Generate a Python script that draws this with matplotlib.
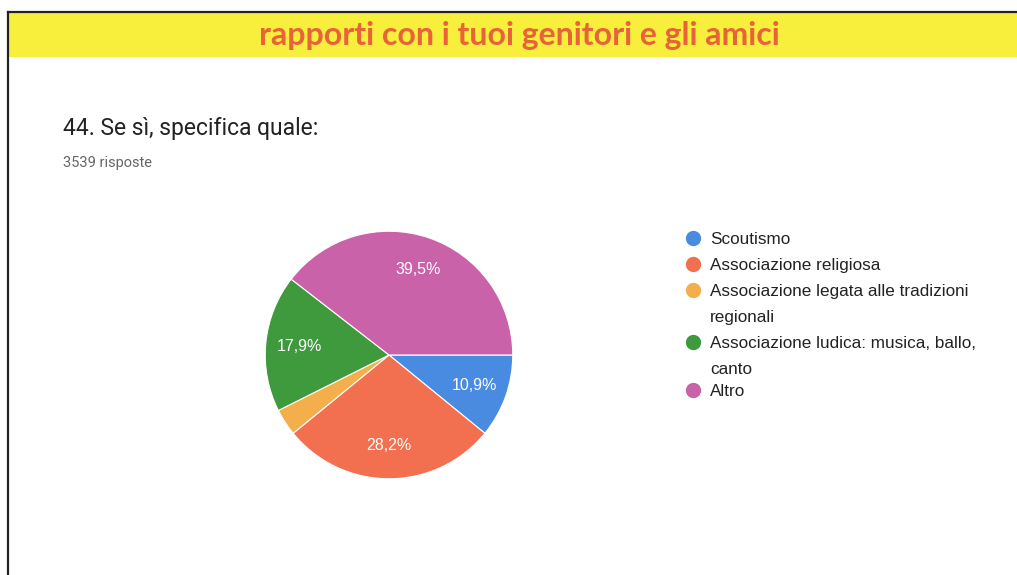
import matplotlib
matplotlib.use("Agg")
import matplotlib.pyplot as plt
from matplotlib.lines import Line2D
from matplotlib.patches import Rectangle

# data
categories = ["Scoutismo", "Associazione religiosa",
              "Associazione legata alle tradizioni\nregionali",
              "Associazione ludica: musica, ballo,\ncanto", "Altro"]
percent = [10.9, 28.2, 3.5, 17.9, 39.5]
pct_labels = ["10,9%", "28,2%", "", "17,9%", "39,5%"]
colors = ["#4a8be2", "#f2704f", "#f5ae4c", "#3e9a3c", "#c962a8"]

W, H = 1017, 575
fig = plt.figure(figsize=(W / 100, H / 100), dpi=100)
fig.patch.set_facecolor("white")

def fx(x):
    return x / W

def fy(y):
    return 1 - y / H

# yellow header band with frame
fig.patches.append(Rectangle((fx(9), fy(57)), fx(1008), 44 / H, transform=fig.transFigure,
                             facecolor="#f8ee3c", edgecolor="none", zorder=0))
fig.add_artist(Line2D([fx(8), fx(1017)], [fy(12), fy(12)], color="#222222", lw=1.6))
fig.add_artist(Line2D([fx(8), fx(8)], [fy(12), fy(575)], color="#222222", lw=1.6))
fig.text(fx(519), fy(35), "rapporti con i tuoi genitori e gli amici", ha="center", va="center",
         fontsize=23, fontweight="bold", family="Lato", color="#e8623a")

# question header
fig.text(fx(63), fy(128), "44. Se sì, specifica quale:", ha="left", va="center",
         fontsize=16.5, family="Roboto", color="#222222")
fig.text(fx(63), fy(163), "3539 risposte", ha="left", va="center",
         fontsize=10.5, family="Roboto", color="#666666")

# pie
ax = fig.add_axes([fx(264), fy(480), 250 / W, 250 / H])
wedges, texts = ax.pie(percent, colors=colors, startangle=0, counterclock=False,
                       radius=1.0, labels=pct_labels, labeldistance=0.73,
                       wedgeprops=dict(edgecolor="white", linewidth=0.8),
                       textprops=dict(color="white", fontsize=11.5, family="Liberation Sans"))
for t in texts:
    t.set_ha("center")
    t.set_va("center")
ax.set_xlim(-1.01, 1.01)
ax.set_ylim(-1.01, 1.01)
ax.set_aspect("equal")
ax.axis("off")

# legend: one marker per entry, wrapped lines 26 px apart
rows_y = [238, 264, 290, 342, 390]
for cat, c, y in zip(categories, colors, rows_y):
    fig.add_artist(Line2D([fx(693)], [fy(y)], marker="o", markersize=10,
                          color=c, linestyle="none"))
    for i, line in enumerate(cat.split("\n")):
        fig.text(fx(710), fy(y + 26 * i), line, ha="left", va="center_baseline",
                 fontsize=12.3, family="Liberation Sans", color="#222222")

fig.savefig("out.png", dpi=100, facecolor="white")
